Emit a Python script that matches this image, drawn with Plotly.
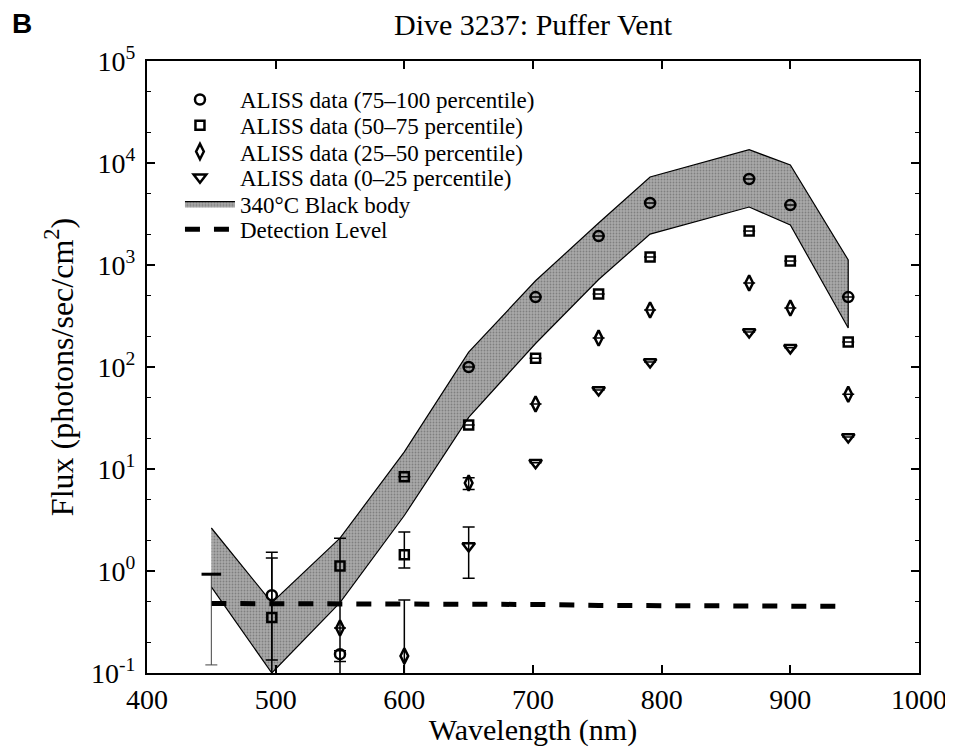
import plotly.graph_objects as go

# ---------------- data ----------------
wavelength = [450, 497, 550, 600, 650, 702, 751, 791, 868, 900, 945]
bb_upper = [2.64, 0.49, 2.1, 14.7, 140, 700, 2580, 7300, 13500, 9550, 1120]
bb_lower = [0.70, 0.10, 0.49, 3.5, 32, 170, 720, 2010, 3700, 2470, 241]
detection = [0.48, 0.48, 0.48, 0.48, 0.47, 0.47, 0.46, 0.46, 0.46, 0.45, 0.45]

# ALISS data (75-100 percentile)
p75_wl = [497, 550, 650, 702, 751, 791, 868, 900, 945]
p75_val = [0.58, 0.153, 100, 485, 1920, 4060, 6970, 3870, 485]
p75_hi = [1.53, 0.165, 100, 485, 1920, 4060, 6970, 3870, 485]
p75_lo = [0.134, 0.13, 100, 485, 1920, 4060, 6970, 3870, 485]

# ALISS data (50-75 percentile)
p50_wl = [497, 550, 600, 600, 650, 702, 751, 791, 868, 900, 945]
p50_val = [0.35, 1.12, 8.4, 1.44, 27, 122, 520, 1200, 2150, 1095, 176]
p50_hi = [1.34, 2.1, 8.4, 2.41, 27, 122, 520, 1200, 2150, 1095, 176]
p50_lo = [0.01, 0.01, 8.4, 1.07, 27, 122, 520, 1200, 2150, 1095, 176]

# ALISS data (25-50 percentile)
p25_wl = [550, 600, 650, 702, 751, 791, 868, 900, 945]
p25_val = [0.276, 0.147, 7.3, 43.4, 192, 362, 667, 378, 54]
p25_hi = [0.276, 0.52, 8.2, 43.4, 192, 362, 667, 378, 54]
p25_lo = [0.276, 0.01, 6.3, 43.4, 192, 362, 667, 378, 54]

# ALISS data (0-25 percentile)
p0_wl = [650, 702, 751, 791, 868, 900, 945]
p0_val = [1.76, 11.5, 59.6, 112, 220, 154, 20.6]
p0_hi = [2.7, 11.5, 59.6, 112, 220, 154, 20.6]
p0_lo = [0.85, 11.5, 59.6, 112, 220, 154, 20.6]

# isolated 450 nm reading
x450_wl = [450]
x450_val = [0.93]
x450_lo = [0.12]

x_ticks = [400, 500, 600, 700, 800, 900, 1000]
y_tickvals = [0.1, 1, 10, 100, 1000, 10000, 100000]
y_ticktext = ["10<sup>-1</sup>", "10<sup>0</sup>", "10<sup>1</sup>", "10<sup>2</sup>",
              "10<sup>3</sup>", "10<sup>4</sup>", "10<sup>5</sup>"]

SERIF = "Liberation Serif, Times New Roman, serif"

# legend slots (paper y of each entry centre)
legend_y = [0.937, 0.895, 0.852, 0.810, 0.767, 0.725]
legend_names = ["legend", "legend2", "legend3", "legend4", "legend5", "legend6"]

fig = go.Figure()

# black body band
fig.add_trace(go.Scatter(
    x=wavelength + wavelength[::-1],
    y=bb_upper + bb_lower[::-1],
    fill="toself", fillcolor="#9a9a9a",
    fillpattern=dict(shape=".", fgcolor="#555555", bgcolor="#a9a9a9",
                     size=3, solidity=0.3),
    line=dict(color="black", width=1.2),
    mode="lines", name="340°C Black body", legend=legend_names[4],
))

# detection level
fig.add_trace(go.Scatter(
    x=wavelength, y=detection, mode="lines",
    line=dict(color="black", width=5, dash="15px,14px"),
    name="Detection Level", legend=legend_names[5],
))


def err(vals, hi, lo):
    return ([h - v for h, v in zip(hi, vals)], [v - l for v, l in zip(vals, lo)])


def series(xs, ys, hi, lo, symbol, size, name, slot):
    up, dn = err(ys, hi, lo)
    fig.add_trace(go.Scatter(
        x=xs, y=ys, mode="markers", name=name, legend=legend_names[slot],
        marker=dict(symbol=symbol, size=size, color="black",
                    line=dict(color="black", width=2.5)),
        error_y=dict(type="data", array=up, arrayminus=dn, symmetric=False,
                     color="black", thickness=1.5, width=6),
    ))


series(p75_wl, p75_val, p75_hi, p75_lo, "circle-open", 10, "ALISS data (75–100 percentile)", 0)
series(p50_wl, p50_val, p50_hi, p50_lo, "square-open", 9, "ALISS data (50–75 percentile)", 1)
series(p25_wl, p25_val, p25_hi, p25_lo, "diamond-tall-open", 11, "ALISS data (25–50 percentile)", 2)
series(p0_wl, p0_val, p0_hi, p0_lo, "triangle-down-open", 11, "ALISS data (0–25 percentile)", 3)

fig.add_trace(go.Scatter(
    x=x450_wl, y=x450_val, mode="markers", showlegend=False,
    marker=dict(symbol="line-ew-open", size=14, color="black",
                line=dict(color="black", width=3)),
    error_y=dict(type="data", array=[0],
                 arrayminus=[v - l for v, l in zip(x450_val, x450_lo)],
                 symmetric=False, color="#444", thickness=1, width=6),
))

legend_layout = {}
for i, (nm, yy) in enumerate(zip(legend_names, legend_y)):
    if i < 4:   # marker entries: symbol centred at ~200px, text at ~240px
        lx, iw = 0.0168, 70
    else:       # band / line entries
        lx, iw = 0.0427, 50
    legend_layout[nm] = dict(x=lx, y=yy, xanchor="left", yanchor="middle",
                             bgcolor="rgba(0,0,0,0)",
                             font=dict(size=23, family=SERIF),
                             itemwidth=iw, borderwidth=0)

fig.update_layout(
    width=945, height=739,
    margin=dict(l=139, r=34, t=53, b=74),
    paper_bgcolor="white", plot_bgcolor="white",
    font=dict(family=SERIF, color="black"),
    title=dict(text="Dive 3237: Puffer Vent", x=0.5, xref="paper",
               xanchor="center", y=0.977, yanchor="middle",
               font=dict(size=30, family=SERIF)),
    showlegend=True,
    annotations=[dict(text="<b>B</b>", xref="paper", yref="paper",
                      x=-0.162, y=1.062, xanchor="center", yanchor="middle",
                      showarrow=False,
                      font=dict(size=28, family="Liberation Sans, Arial, sans-serif"))],
    **legend_layout,
)

fig.update_xaxes(
    range=[400, 1000], tickvals=x_ticks, ticktext=[str(t) for t in x_ticks],
    ticks="inside", ticklen=8, tickwidth=1.5, tickcolor="black",
    showline=True, linecolor="black", linewidth=2, mirror="ticks",
    showgrid=False, zeroline=False, automargin=False,
    tickfont=dict(size=28, family=SERIF),
    title=dict(text="Wavelength (nm)", font=dict(size=30, family=SERIF), standoff=1),
)
fig.update_yaxes(
    type="log", range=[-1, 5], tickvals=y_tickvals, ticktext=y_ticktext,
    ticks="inside", ticklen=8, tickwidth=1.5, tickcolor="black",
    minor=dict(ticks="inside", ticklen=4, tickcolor="black", tickwidth=1, showgrid=False),
    showline=True, linecolor="black", linewidth=2, mirror="ticks",
    showgrid=False, zeroline=False, automargin=False,
    tickfont=dict(size=28, family=SERIF), ticklabelstandoff=4,
    title=dict(text="Flux (photons/sec/cm<sup>2</sup>)", font=dict(size=32, family=SERIF), standoff=8),
)

fig.write_html("out.html")
